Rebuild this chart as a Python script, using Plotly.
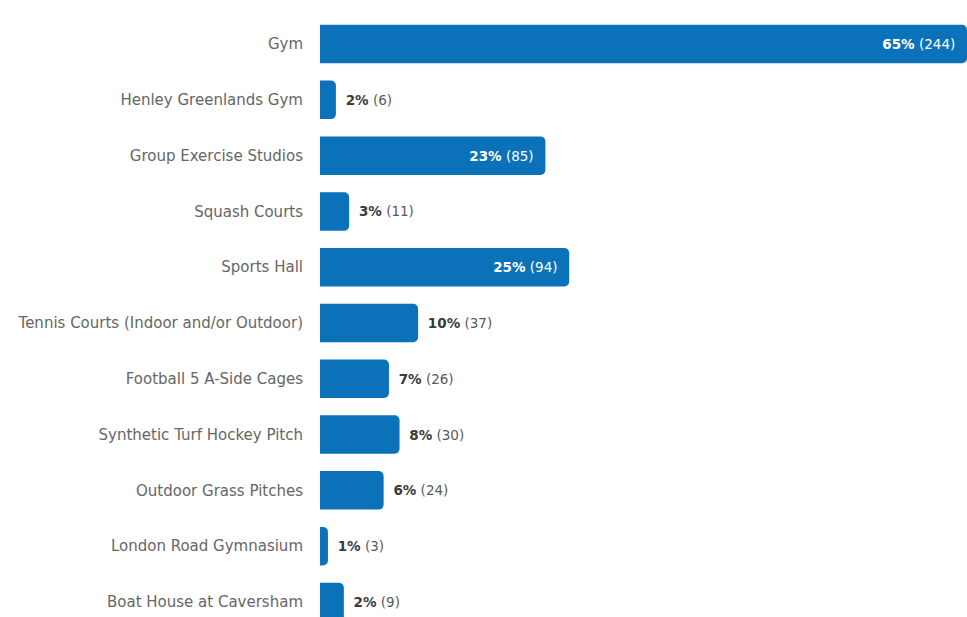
import plotly.graph_objects as go

categories = ["Gym", "Henley Greenlands Gym", "Group Exercise Studios", "Squash Courts",
              "Sports Hall", "Tennis Courts (Indoor and/or Outdoor)", "Football 5 A-Side Cages",
              "Synthetic Turf Hockey Pitch", "Outdoor Grass Pitches", "London Road Gymnasium",
              "Boat House at Caversham"]
counts = [244, 6, 85, 11, 94, 37, 26, 30, 24, 3, 9]
percents = [65, 2, 23, 3, 25, 10, 7, 8, 6, 1, 2]
inside = [True, False, True, False, True, False, False, False, False, False, False]

FONT = "DejaVu Sans"

texts = []
positions = []
colors = []
for p, c, ins in zip(percents, counts, inside):
    if ins:
        texts.append(f"<b>{p}%</b> ({c})\u2002")
        positions.append("inside")
        colors.append("white")
    else:
        texts.append(f"\u2002<b>{p}%</b> <span style='color:#5a5a5a'>({c})</span>")
        positions.append("outside")
        colors.append("#3a3a3a")

fig = go.Figure(go.Bar(
    x=counts, y=categories, orientation="h",
    marker=dict(color="#0B72B9", line=dict(width=0)),
    text=texts, textposition=positions,
    insidetextanchor="end",
    textfont=dict(family=FONT, size=13.5, color=colors),
    insidetextfont=dict(family=FONT, size=13.5, color="white"),
    outsidetextfont=dict(family=FONT, size=13.5, color="#3a3a3a"),
    constraintext="none",
    cliponaxis=False,
    hoverinfo="skip",
))

fig.update_layout(
    width=967, height=617,
    margin=dict(l=320, r=0, t=0, b=0),
    paper_bgcolor="white", plot_bgcolor="white",
    bargap=0.31,
    barcornerradius=5,
    showlegend=False,
    font=dict(family=FONT, size=15, color="#666666"),
)
fig.update_xaxes(range=[0, 244], visible=False, showgrid=False, zeroline=False)
fig.update_yaxes(
    type="category",
    range=[10.27, -0.79],
    showgrid=False, zeroline=False, showline=False, ticks="",
    ticklabelstandoff=16,
    tickfont=dict(family=FONT, size=15, color="#666666"),
)

fig.write_html("out.html")
